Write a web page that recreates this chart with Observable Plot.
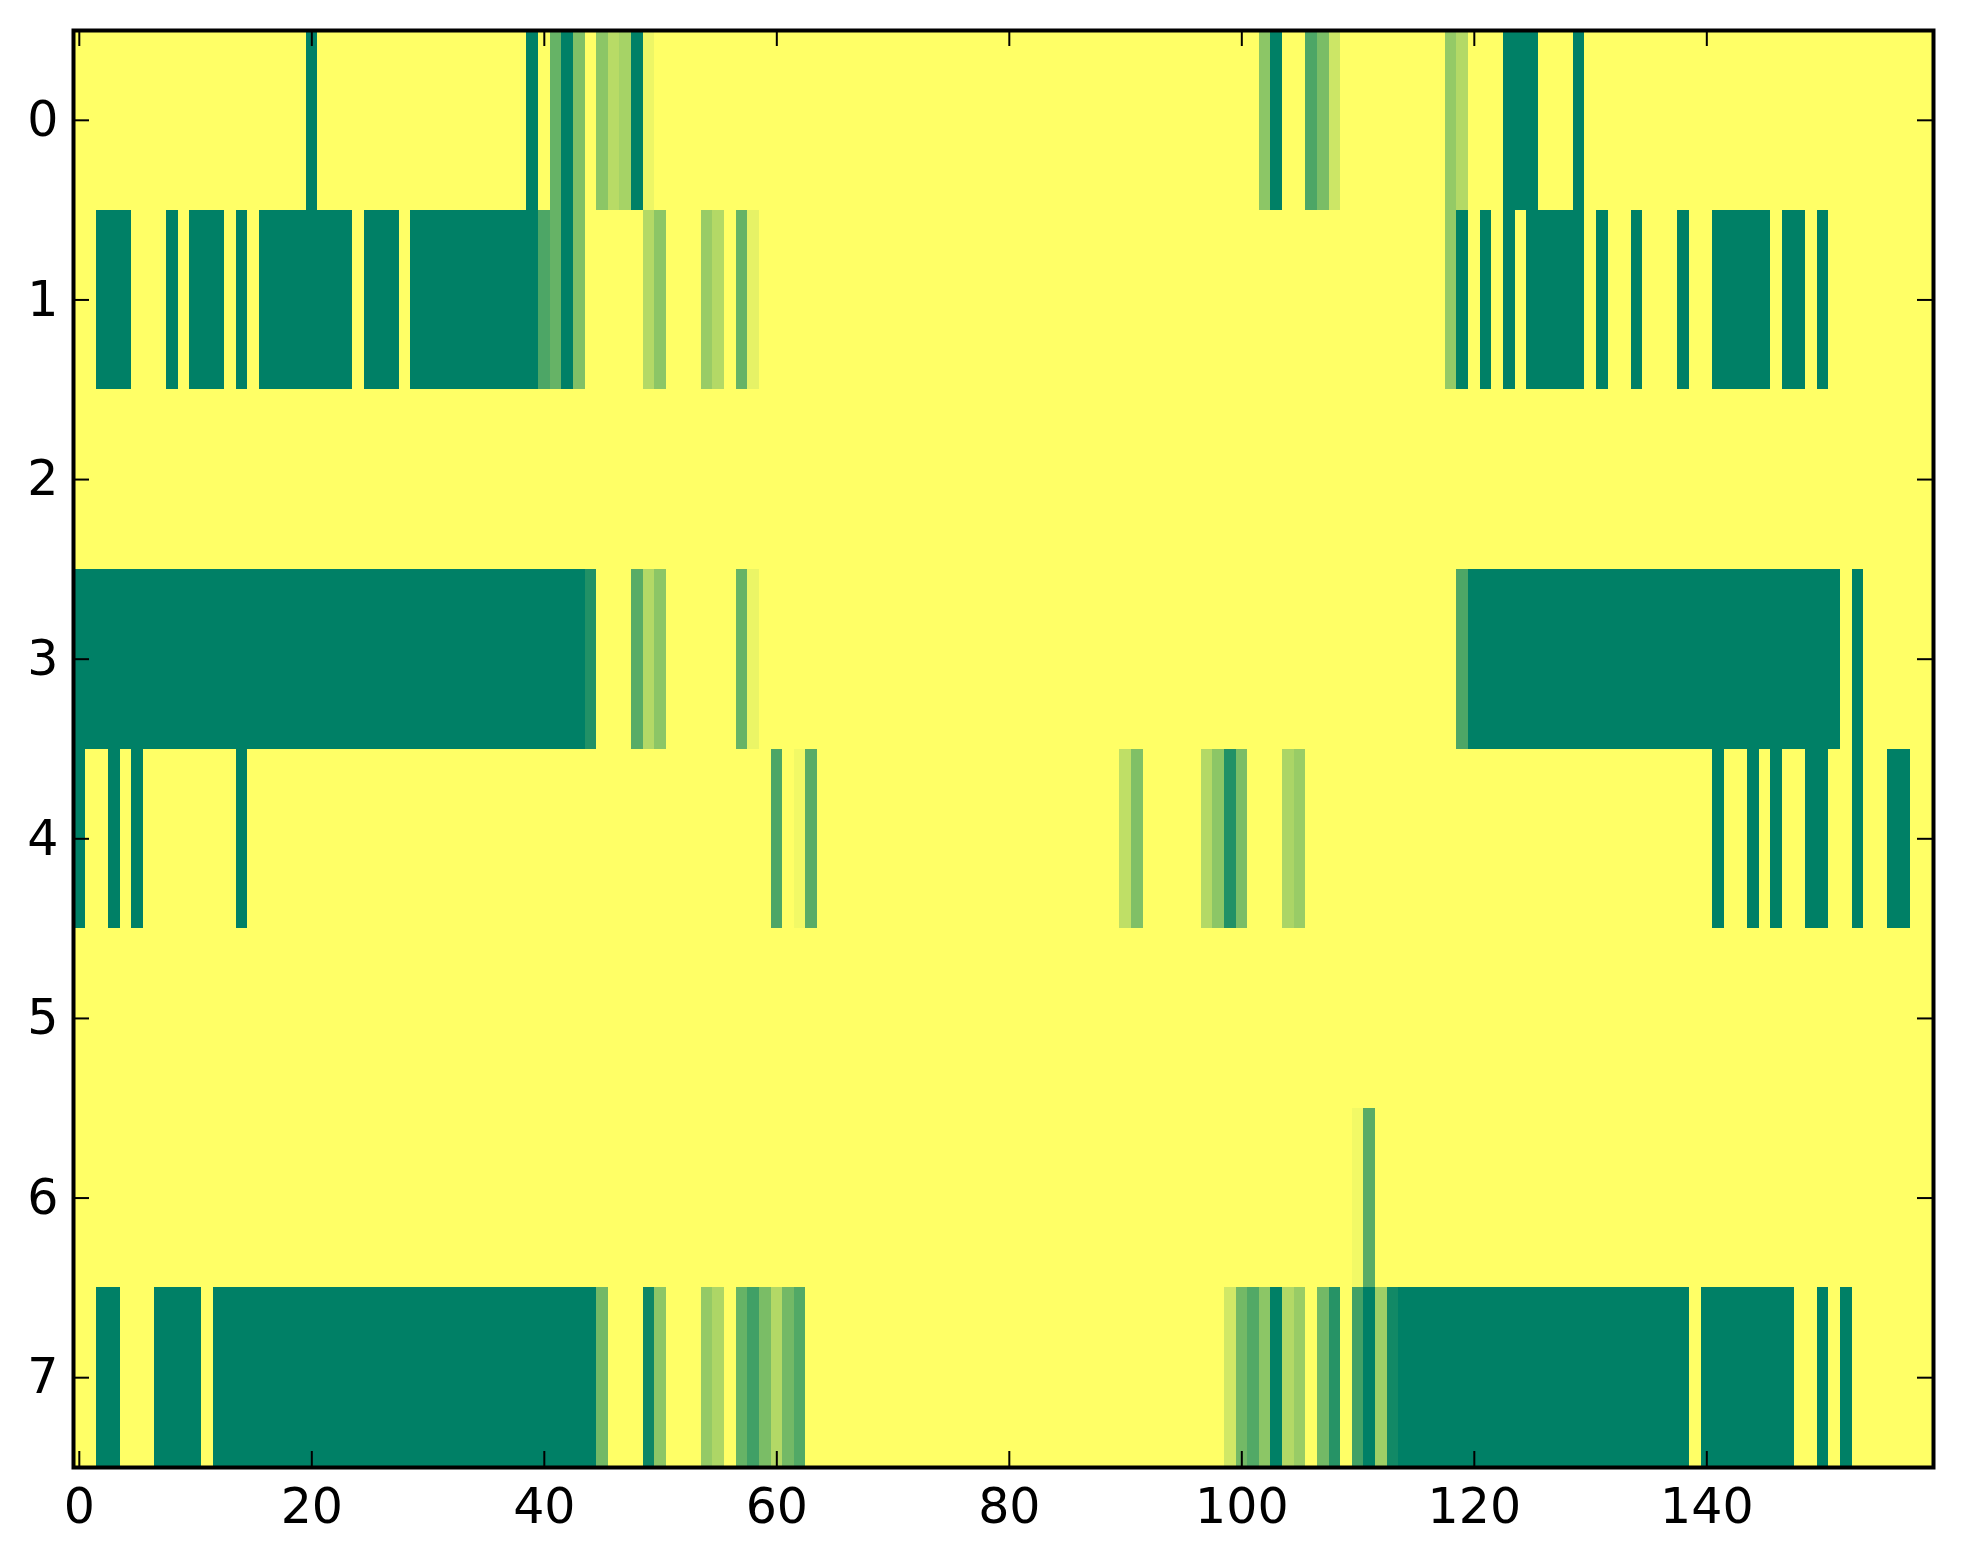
<!DOCTYPE html>
<html><head><meta charset="utf-8">
<script src="https://cdn.jsdelivr.net/npm/d3@7"></script>
<script src="https://cdn.jsdelivr.net/npm/@observablehq/plot@0.6"></script>
<style>body{margin:0;background:#fff}</style>
</head><body><div id="chart"></div>
<script>
const row0 = [
0,0,0,0,0,0,0,0,0,0, 0,0,0,0,0,0,0,0,0,0,
1,0,0,0,0,0,0,0,0,0, 0,0,0,0,0,0,0,0,0,1,
0,.6,1,.5,0,.45,.28,.35,1,.07, 0,0,0,0,0,0,0,0,0,0,
0,0,0,0,0,0,0,0,0,0, 0,0,0,0,0,0,0,0,0,0,
0,0,0,0,0,0,0,0,0,0, 0,0,0,0,0,0,0,0,0,0,
0,0,.45,1,0,0,.7,.52,.2,0, 0,0,0,0,0,0,0,0,.42,.3,
0,0,0,1,1,1,0,0,0,1, 0,0,0,0,0,0,0,0,0,0,
0,0,0,0,0,0,0,0,0,0, 0,0,0,0,0,0,0,0,0,0];
const row1 = [
0,0,1,1,1,0,0,0,1,0, 1,1,1,0,1,0,1,1,1,1,
1,1,1,1,0,1,1,1,0,1, 1,1,1,1,1,1,1,1,1,1,
.7,.6,1,.5,0,0,0,0,0,.3, .45,0,0,0,.4,.3,0,.6,.1,0,
0,0,0,0,0,0,0,0,0,0, 0,0,0,0,0,0,0,0,0,0,
0,0,0,0,0,0,0,0,0,0, 0,0,0,0,0,0,0,0,0,0,
0,0,0,0,0,0,0,0,0,0, 0,0,0,0,0,0,0,0,.42,1,
0,1,0,1,0,1,1,1,1,1, 0,1,0,0,1,0,0,0,1,0,
0,1,1,1,1,1,0,1,1,0, 1,0,0,0,0,0,0,0,0,0];
const row2 = [
0,0,0,0,0,0,0,0,0,0, 0,0,0,0,0,0,0,0,0,0,
0,0,0,0,0,0,0,0,0,0, 0,0,0,0,0,0,0,0,0,0,
0,0,0,0,0,0,0,0,0,0, 0,0,0,0,0,0,0,0,0,0,
0,0,0,0,0,0,0,0,0,0, 0,0,0,0,0,0,0,0,0,0,
0,0,0,0,0,0,0,0,0,0, 0,0,0,0,0,0,0,0,0,0,
0,0,0,0,0,0,0,0,0,0, 0,0,0,0,0,0,0,0,0,0,
0,0,0,0,0,0,0,0,0,0, 0,0,0,0,0,0,0,0,0,0,
0,0,0,0,0,0,0,0,0,0, 0,0,0,0,0,0,0,0,0,0];
const row3 = [
1,1,1,1,1,1,1,1,1,1, 1,1,1,1,1,1,1,1,1,1,
1,1,1,1,1,1,1,1,1,1, 1,1,1,1,1,1,1,1,1,1,
1,1,1,1,.87,0,0,0,.65,.3, .45,0,0,0,0,0,0,.6,.08,0,
0,0,0,0,0,0,0,0,0,0, 0,0,0,0,0,0,0,0,0,0,
0,0,0,0,0,0,0,0,0,0, 0,0,0,0,0,0,0,0,0,0,
0,0,0,0,0,0,0,0,0,0, 0,0,0,0,0,0,0,0,0,.7,
1,1,1,1,1,1,1,1,1,1, 1,1,1,1,1,1,1,1,1,1,
1,1,1,1,1,1,1,1,1,1, 1,1,0,1,0,0,0,0,0,0];
const row4 = [
1,0,0,1,0,1,0,0,0,0, 0,0,0,0,1,0,0,0,0,0,
0,0,0,0,0,0,0,0,0,0, 0,0,0,0,0,0,0,0,0,0,
0,0,0,0,0,0,0,0,0,0, 0,0,0,0,0,0,0,0,0,0,
.7,0,.05,.65,0,0,0,0,0,0, 0,0,0,0,0,0,0,0,0,0,
0,0,0,0,0,0,0,0,0,0, .25,.5,0,0,0,0,0,.3,.45,.87,
.52,0,0,0,.33,.4,0,0,0,0, 0,0,0,0,0,0,0,0,0,0,
0,0,0,0,0,0,0,0,0,0, 0,0,0,0,0,0,0,0,0,0,
0,1,0,0,1,0,1,0,0,1, 1,0,0,1,0,0,1,1,0,0];
const row5 = [
0,0,0,0,0,0,0,0,0,0, 0,0,0,0,0,0,0,0,0,0,
0,0,0,0,0,0,0,0,0,0, 0,0,0,0,0,0,0,0,0,0,
0,0,0,0,0,0,0,0,0,0, 0,0,0,0,0,0,0,0,0,0,
0,0,0,0,0,0,0,0,0,0, 0,0,0,0,0,0,0,0,0,0,
0,0,0,0,0,0,0,0,0,0, 0,0,0,0,0,0,0,0,0,0,
0,0,0,0,0,0,0,0,0,0, 0,0,0,0,0,0,0,0,0,0,
0,0,0,0,0,0,0,0,0,0, 0,0,0,0,0,0,0,0,0,0,
0,0,0,0,0,0,0,0,0,0, 0,0,0,0,0,0,0,0,0,0];
const row6 = [
0,0,0,0,0,0,0,0,0,0, 0,0,0,0,0,0,0,0,0,0,
0,0,0,0,0,0,0,0,0,0, 0,0,0,0,0,0,0,0,0,0,
0,0,0,0,0,0,0,0,0,0, 0,0,0,0,0,0,0,0,0,0,
0,0,0,0,0,0,0,0,0,0, 0,0,0,0,0,0,0,0,0,0,
0,0,0,0,0,0,0,0,0,0, 0,0,0,0,0,0,0,0,0,0,
0,0,0,0,0,0,0,0,0,0, .05,.65,0,0,0,0,0,0,0,0,
0,0,0,0,0,0,0,0,0,0, 0,0,0,0,0,0,0,0,0,0,
0,0,0,0,0,0,0,0,0,0, 0,0,0,0,0,0,0,0,0,0];
const row7 = [
0,0,1,1,0,0,0,1,1,1, 1,0,1,1,1,1,1,1,1,1,
1,1,1,1,1,1,1,1,1,1, 1,1,1,1,1,1,1,1,1,1,
1,1,1,1,1,.55,0,0,0,.95, .45,0,0,0,.42,.32,0,.6,.75,.52,
.3,.55,.68,0,0,0,0,0,0,0, 0,0,0,0,0,0,0,0,0,0,
0,0,0,0,0,0,0,0,0,0, 0,0,0,0,0,0,0,0,0,.18,
.55,.68,.45,1,.3,.4,0,.55,.85,0, .74,1,.38,.93,1,1,1,1,1,1,
1,1,1,1,1,1,1,1,1,1, 1,1,1,1,1,1,1,1,1,0,
1,1,1,1,1,1,1,1,0,0, 1,0,1,0,0,0,0,0,0,0];

const rows = [row0, row1, row2, row3, row4, row5, row6, row7];
const xTicks = [0, 20, 40, 60, 80, 100, 120, 140];
const yTicks = [0, 1, 2, 3, 4, 5, 6, 7];

const cells = rows.flatMap((r, y) => r.map((v, x) => ({x, y, v})));

const W = 1963, H = 1564, mL = 73, mR = 30, mT = 30, mB = 97;
const plotW = W - mL - mR, plotH = H - mT - mB;
const tickLen = 16;
const fmt = d => String(d);

const chart = Plot.plot({
  width: W, height: H,
  marginLeft: mL, marginRight: mR, marginTop: mT, marginBottom: mB,
  x: {domain: [-0.5, rows[0].length - 0.5], axis: null},
  y: {domain: [-0.5, rows.length - 0.5], reverse: true, axis: null},
  color: {type: "linear", domain: [0, 1], range: ["#ffff66", "#008066"], interpolate: "rgb"},
  style: {fontFamily: "'DejaVu Sans', sans-serif", fontSize: "49px", background: "white", color: "black"},
  marks: [
    Plot.rect(cells, {x1: d => d.x - 0.5, x2: d => d.x + 0.5, y1: d => d.y - 0.5, y2: d => d.y + 0.5, fill: "v", shapeRendering: "crispEdges"}),
    Plot.tickX(xTicks, {x: d => d, insetTop: plotH - tickLen, stroke: "black", strokeWidth: 2}),
    Plot.tickX(xTicks, {x: d => d, insetBottom: plotH - tickLen, stroke: "black", strokeWidth: 2}),
    Plot.tickY(yTicks, {y: d => d, insetRight: plotW - tickLen, stroke: "black", strokeWidth: 2}),
    Plot.tickY(yTicks, {y: d => d, insetLeft: plotW - tickLen, stroke: "black", strokeWidth: 2}),
    Plot.axisX(xTicks, {anchor: "bottom", tickSize: 0, tickPadding: 21, fontSize: 49, fill: "black", label: null, tickFormat: fmt}),
    Plot.axisY(yTicks, {anchor: "left", tickSize: 0, tickPadding: 15, fontSize: 49, fill: "black", label: null, tickFormat: fmt}),
    Plot.frame({stroke: "black", strokeWidth: 4})
  ]
});
document.getElementById("chart").appendChild(chart);
</script>
</body></html>
